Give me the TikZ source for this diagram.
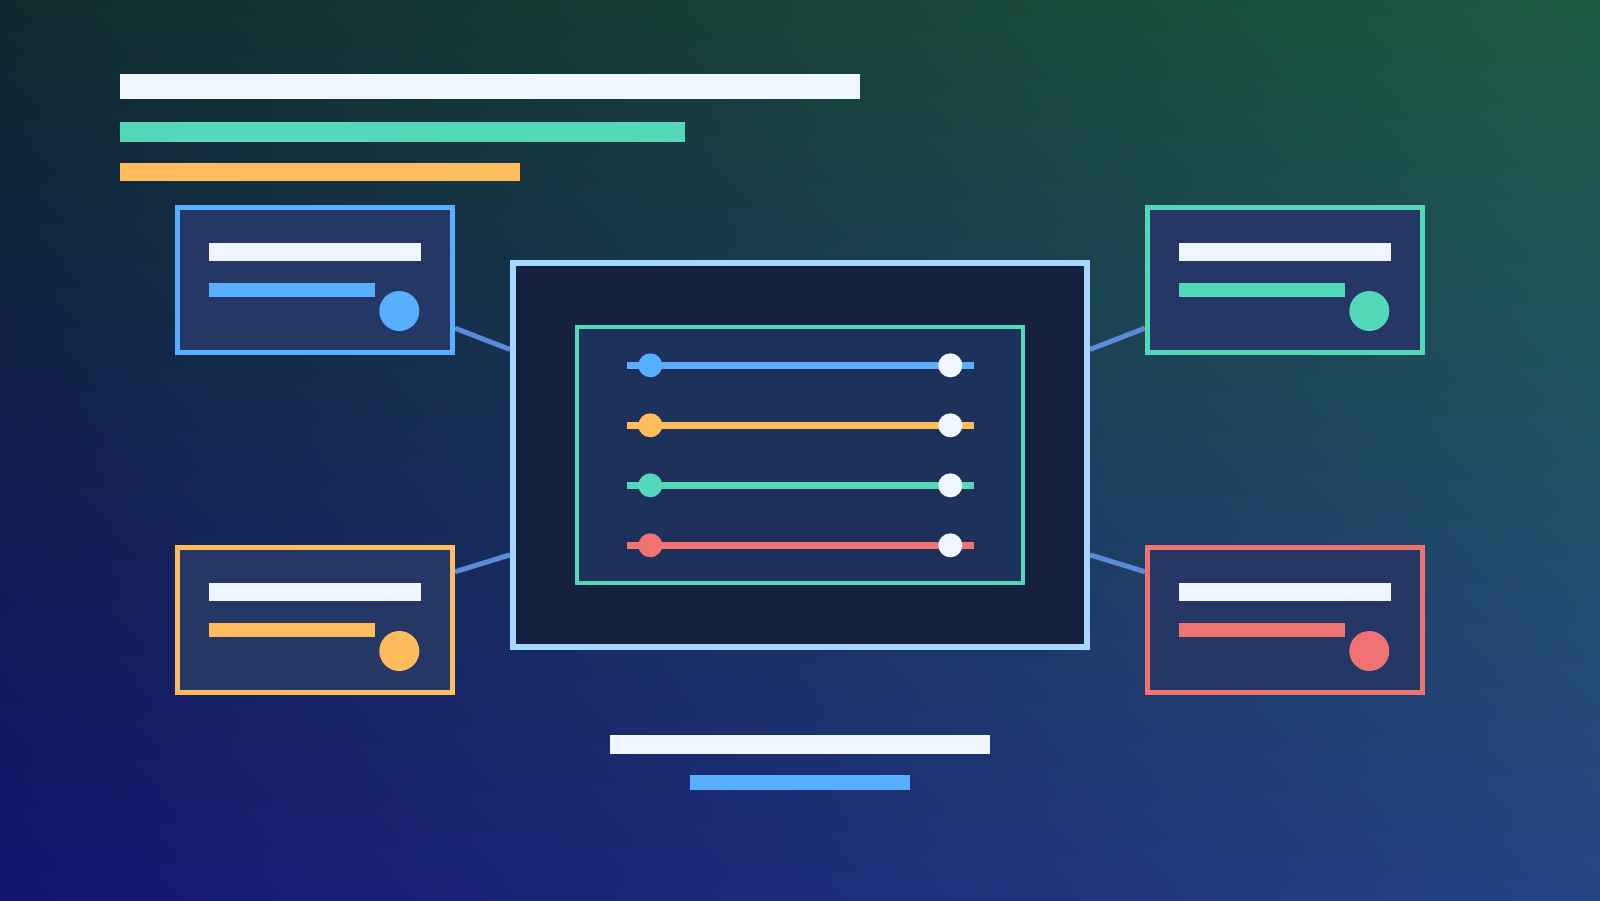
\documentclass[tikz,border=0pt]{standalone}
\usetikzlibrary{backgrounds,shadings}
\definecolor{cwhite}{HTML}{EFF6FF}
\definecolor{cblue}{HTML}{58AEFF}
\definecolor{cgreen}{HTML}{54D9B8}
\definecolor{corange}{HTML}{FFBC5C}
\definecolor{cred}{HTML}{EF7373}
\definecolor{cardfill}{HTML}{243765}
\definecolor{hubfill}{HTML}{14213F}
\definecolor{hubline}{HTML}{A6D8FF}
\definecolor{panelfill}{HTML}{1E315A}
\definecolor{wire}{HTML}{5A8BD9}
\definecolor{bgul}{RGB}{15,42,45}
\definecolor{bgur}{RGB}{30,90,66}
\definecolor{bgll}{RGB}{20,20,112}
\definecolor{bglr}{RGB}{37,68,134}

\begin{document}
\begin{tikzpicture}[x=1pt,y=-1pt,
    card/.style={rectangle,inner sep=0,minimum width=275,minimum height=145,fill=cardfill,line width=5},
    bar/.style={rectangle,inner sep=0,fill=cwhite},
    knob/.style={circle,inner sep=0,minimum size=24}]
                \useasboundingbox (0,0) rectangle (1600,900);
                \fill[cwhite] (120,74) rectangle (860,99);
                \fill[cgreen] (120,122) rectangle (685,142);
                \fill[corange] (120,163) rectangle (520,181);
                \node[rectangle,inner sep=0,minimum width=574,minimum height=384,fill=hubfill,draw=hubline,line width=6] (hub) at (800,455) {};
                \node[rectangle,inner sep=0,minimum width=446,minimum height=256,fill=panelfill,draw=cgreen,line width=4] (panel) at (800,455) {};
                \foreach \c [count=\i from 0] in {cblue,corange,cgreen,cred} {
                    \coordinate (s\i-l) at (627,{365.3+60*\i});
                    \coordinate (s\i-r) at (974,{365.3+60*\i});
                    \draw[\c,line width=7] (s\i-l) -- (s\i-r);
                    \node[knob,fill=\c] (k\i-a) at (650.3,{365.3+60*\i}) {};
                    \node[knob,fill=cwhite] (k\i-b) at (950.3,{365.3+60*\i}) {};
                }
                \foreach \n/\c/\x/\y in {lt/cblue/315/280, lb/corange/315/620, rt/cgreen/1285/280, rb/cred/1285/620} {
                    \node[card,draw=\c] (\n) at (\x,\y) {};
                    \node[bar,minimum width=212,minimum height=18] (\n-t) at (\x,{\y-28}) {};
                    \node[bar,fill=\c,minimum width=166,minimum height=14] (\n-s) at ({\x-23},{\y+10}) {};
                    \node[knob,fill=\c,minimum size=40] (\n-d) at ({\x+84.3},{\y+31}) {};
                }
                \fill[cwhite] (610,735) rectangle (990,754);
                \fill[cblue] (690,775) rectangle (910,790);
                \begin{scope}[on background layer]
                \shade[upper left=bgul,upper right=bgur,lower left=bgll,lower right=bglr] (0,0) rectangle (1600,900);
                \draw[wire,line width=5] (lt.-19) -- (hub.160) (lb.19) -- (hub.199) (rt.199) -- (hub.20) (rb.161) -- (hub.-19);
                \end{scope}
\end{tikzpicture}
\end{document}
